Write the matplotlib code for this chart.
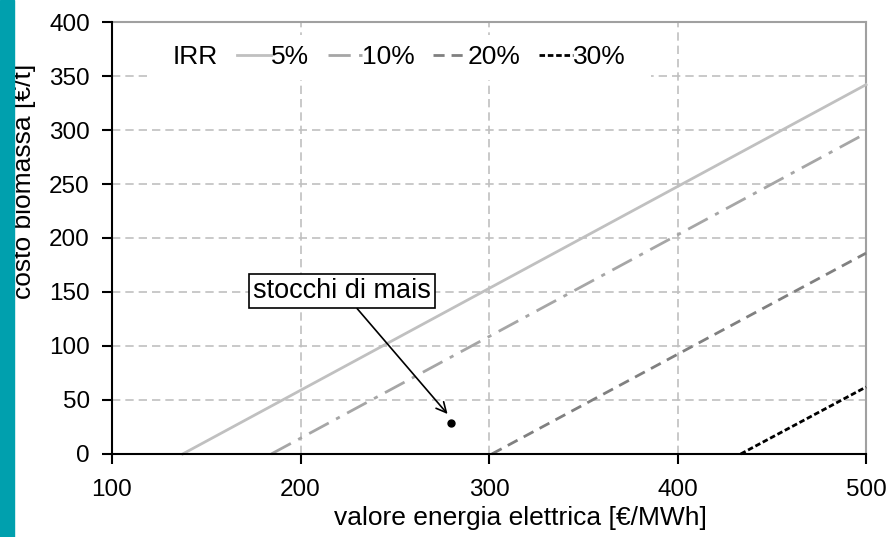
import matplotlib
matplotlib.use('Agg')
import matplotlib.pyplot as plt
from matplotlib.patches import Rectangle

plt.rcParams['font.family'] = ['Liberation Sans', 'DejaVu Sans']

# IRR curves: energy value [EUR/MWh] vs biomass cost [EUR/t]
irr_labels = ['5%', '10%', '20%', '30%']
irr_x = [[137.5, 500], [184.5, 500], [301.5, 500], [433.5, 500]]
irr_y = [[0, 342], [0, 297], [0, 186], [0, 62]]
irr_colors = ['#c0c0c0', '#a6a6a6', '#808080', '#000000']
irr_styles = ['-', (0, (8, 3, 1.5, 3)), (0, (4, 2.5)), (0, (2, 1))]

point_x = [280]
point_y = [29]

tick_fs = 17.5
label_fs = 19
leg_fs = 19

fig = plt.figure(figsize=(8.91, 5.37), dpi=100)
ax = fig.add_axes([0.1257, 0.1546, 0.972 - 0.1257, 0.959 - 0.1546])

fig.patches.append(Rectangle((0, 0), 14 / 891, 1, transform=fig.transFigure,
                             color='#00a0ae', zorder=0))

ax.set_xlim(100, 500)
ax.set_ylim(0, 400)
ax.set_xticks(range(100, 501, 100))
ax.set_yticks(range(0, 401, 50))
ax.grid(color='#c0c0c0', linestyle=(0, (5, 3)), linewidth=1.2)
ax.set_axisbelow(True)

for s in ['top', 'right']:
    ax.spines[s].set_color('#a0a0a0')
    ax.spines[s].set_linewidth(1.5)
for s in ['left', 'bottom']:
    ax.spines[s].set_color('black')
    ax.spines[s].set_linewidth(1.5)
    ax.spines[s].set_zorder(5)

ax.tick_params(direction='out', length=7, width=1.5, labelsize=tick_fs)
ax.tick_params(axis='x', pad=11)
ax.tick_params(axis='y', pad=9)

# white area behind the legend
ax.add_patch(Rectangle((0.05, 0.866), 0.665, 0.104, transform=ax.transAxes,
                       facecolor='white', edgecolor='none', zorder=2))

handles = []
for xs, ys, lab, c, ls in zip(irr_x, irr_y, irr_labels, irr_colors, irr_styles):
    h, = ax.plot(xs, ys, color=c, linestyle=ls, linewidth=2.0, label=lab,
                 clip_on=False, zorder=3)
    handles.append(h)

ax.plot(point_x, point_y, 'o', color='black', markersize=5, zorder=4)
ax.annotate('stocchi di mais', xy=(278, 37), xytext=(222, 151),
            fontsize=19.5, ha='center', va='center',
            bbox=dict(boxstyle='square,pad=0.15', fc='white', ec='black', lw=1.2),
            arrowprops=dict(arrowstyle='->', color='black', lw=1.2,
                            shrinkA=0, shrinkB=0, mutation_scale=18),
            zorder=6)

leg = ax.legend(handles=handles, ncol=4, loc='center left',
                bbox_to_anchor=(0.1658, 0.919), fontsize=leg_fs, frameon=False,
                handlelength=1.3, handletextpad=0.0, columnspacing=0.7,
                borderpad=0, borderaxespad=0)
leg.set_zorder(4)
ax.text(0.081, 0.919, 'IRR', transform=ax.transAxes, fontsize=leg_fs,
        ha='left', va='center', zorder=7)

ax.set_xlabel('valore energia elettrica [€/MWh]', fontsize=label_fs)
ax.set_ylabel('costo biomassa [€/t]', fontsize=label_fs)
ax.xaxis.set_label_coords(0.541, -0.12)
ax.yaxis.set_label_coords(-0.101, 0.63)

fig.savefig('out.png', dpi=100)
